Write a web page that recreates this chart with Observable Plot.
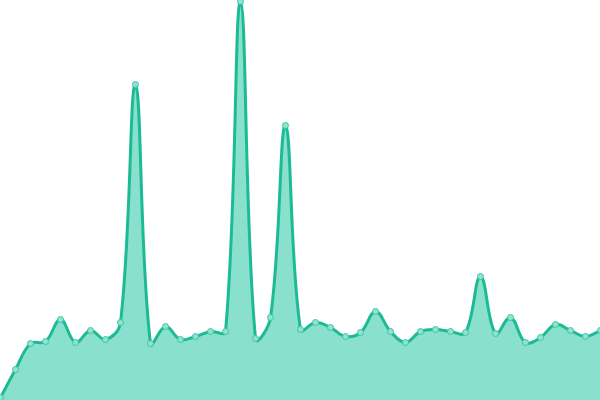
<!DOCTYPE html>
<html>
<head>
<meta charset="utf-8">
<script src="https://cdn.jsdelivr.net/npm/d3@7"></script>
<script src="https://cdn.jsdelivr.net/npm/@observablehq/plot@0.6"></script>
<style>
html,body{margin:0;padding:0;background:#fff;overflow:hidden;}
</style>
</head>
<body>
<div id="chart"></div>
<script>
const indices = d3.range(41);
const values = [3, 31, 57, 59, 81, 58, 70, 61, 78, 316, 57, 74, 61, 64, 69, 69, 399, 62, 83, 275, 71, 78, 73, 64, 68, 89, 69, 58, 69, 71, 69, 68, 124, 67, 83, 58, 63, 76, 70, 64, 70];
const data = indices.map((i) => ({x: i, y: values[i]}));

// Spline curve with distance-weighted control points (tension 0.4)
function SplineCurve(context) { this._context = context; }
SplineCurve.prototype = {
  areaStart() { this._line = 0; },
  areaEnd() { this._line = NaN; },
  lineStart() { this._pts = []; },
  point(x, y) { this._pts.push([+x, +y]); },
  lineEnd() {
    const p = this._pts, n = p.length, c = this._context, t = 0.4;
    if (n) {
      if (this._line) c.lineTo(p[0][0], p[0][1]); else c.moveTo(p[0][0], p[0][1]);
      const cp = p.map((cur, i) => {
        const prev = p[Math.max(0, i - 1)], next = p[Math.min(n - 1, i + 1)];
        const d01 = Math.hypot(cur[0] - prev[0], cur[1] - prev[1]);
        const d12 = Math.hypot(next[0] - cur[0], next[1] - cur[1]);
        let s01 = d01 / (d01 + d12), s12 = d12 / (d01 + d12);
        if (!isFinite(s01)) s01 = 0;
        if (!isFinite(s12)) s12 = 0;
        const fa = t * s01, fb = t * s12;
        const dx = next[0] - prev[0], dy = next[1] - prev[1];
        return {
          px: cur[0] - fa * dx, py: Math.max(0, cur[1] - fa * dy),
          nx: cur[0] + fb * dx, ny: Math.max(0, cur[1] + fb * dy)
        };
      });
      for (let i = 1; i < n; i++) {
        c.bezierCurveTo(cp[i - 1].nx, cp[i - 1].ny, cp[i].px, cp[i].py, p[i][0], p[i][1]);
      }
    }
    if (this._line) c.closePath();
    this._line = 1 - this._line;
  }
};
const spline = (context) => new SplineCurve(context);

const chart = Plot.plot({
  width: 600,
  height: 400,
  margin: 0,
  x: {domain: [0, 40], axis: null},
  y: {domain: [0, 400], axis: null},
  marks: [
    Plot.areaY(data, {x: "x", y: "y", curve: spline, fill: "#88e0cd"}),
    Plot.lineY(data, {x: "x", y: "y", curve: spline, stroke: "#1dbb95", strokeWidth: 3}),
    Plot.dot(data, {x: "x", y: "y", r: 3, fill: "#90e3cf", stroke: "#3cc6a4", strokeWidth: 1})
  ]
});
document.getElementById("chart").appendChild(chart);
</script>
</body>
</html>
